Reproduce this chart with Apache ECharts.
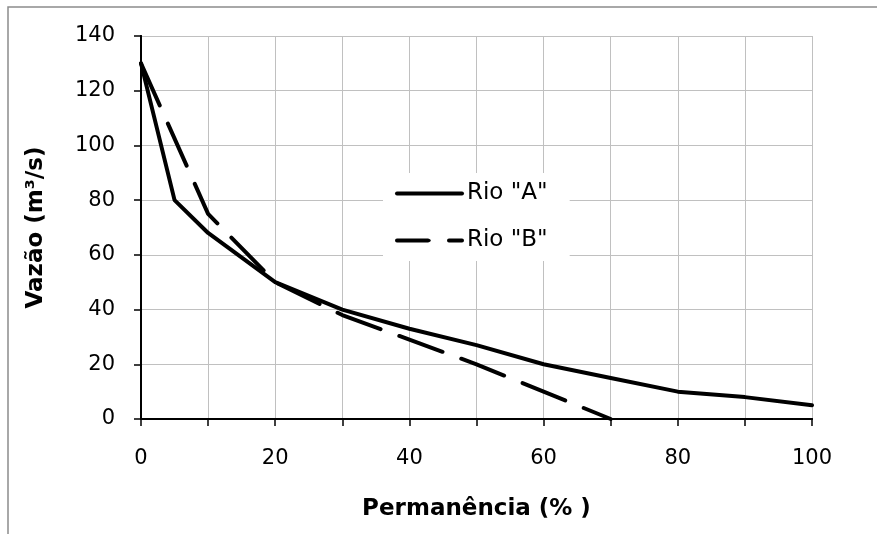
<!DOCTYPE html>
<html>
<head>
<meta charset="utf-8">
<script src="https://cdn.jsdelivr.net/npm/echarts@6/dist/echarts.min.js"></script>
<style>
html,body{margin:0;padding:0;background:#fff;}
#chart{width:877px;height:534px;}
</style>
</head>
<body>
<div id="chart"></div>
<script>
// Data
const permanenciaA = [0, 5, 10, 20, 30, 40, 50, 60, 70, 80, 90, 100];
const vazaoA      = [130, 80, 68, 50, 40, 33, 27, 20, 15, 10, 8, 5];
const permanenciaB = [0, 10, 20, 30, 40, 50, 60, 70];
const vazaoB      = [130, 75, 50, 38, 29, 20, 10, 0];
const seriesNames = ['Rio "A"', 'Rio "B"'];
const xTickLabels = [0, 20, 40, 60, 80, 100];
const yTickLabels = [0, 20, 40, 60, 80, 100, 120, 140];

const pairsA = permanenciaA.map((x, i) => [x, vazaoA[i]]);
const pairsB = permanenciaB.map((x, i) => [x, vazaoB[i]]);

const FONT = 'DejaVu Sans';
const chart = echarts.init(document.getElementById('chart'), null, {renderer: 'canvas'});

chart.setOption({
  backgroundColor: '#fff',
  animation: false,
  graphic: [{
    type: 'rect', z: -10, silent: true,
    shape: {x: 8, y: 7, width: 1000, height: 1000},
    style: {fill: 'none', stroke: '#8c8c8c', lineWidth: 1.5}
  }],
  grid: {left: 141, right: 65, top: 36, bottom: 115, containLabel: false},
  legend: {
    orient: 'vertical',
    left: 383, top: 173,
    padding: [9, 22, 9, 12],
    backgroundColor: '#fff',
    itemWidth: 65, itemHeight: 3, itemGap: 24,
    lineStyle: {width: 4, color: '#000', cap: 'round'},
    itemStyle: {color: '#000'},
    textStyle: {fontFamily: FONT, fontSize: 23, color: '#000', lineHeight: 23},
    data: [
      {name: seriesNames[0], lineStyle: {width: 4, type: 'solid', cap: 'round'}},
      {name: seriesNames[1], lineStyle: {width: 4, type: [31, 21], cap: 'round'}}
    ]
  },
  xAxis: [{
    type: 'value', min: 0, max: 100, interval: 10,
    name: 'Permanência (% )', nameLocation: 'middle', nameGap: 79,
    nameTextStyle: {fontFamily: FONT, fontSize: 23, fontWeight: 'bold', color: '#000'},
    axisLine: {show: true, onZero: false, lineStyle: {color: '#000', width: 2}},
    axisTick: {show: true, length: 7, lineStyle: {color: '#000', width: 1.5}},
    axisLabel: {
      margin: 29, fontFamily: FONT, fontSize: 21, color: '#000',
      formatter: v => xTickLabels.indexOf(v) >= 0 ? String(v) : ''
    },
    splitLine: {show: true, lineStyle: {color: '#c0c0c0', width: 1}}
  }, {
    type: 'value', min: 0, max: 100, position: 'top',
    axisLine: {show: true, lineStyle: {color: '#000', width: 2}},
    axisTick: {show: false}, axisLabel: {show: false}, splitLine: {show: false}
  }],
  yAxis: [{
    type: 'value', min: 0, max: 140, interval: 20,
    name: 'Vazão (m³/s)', nameLocation: 'middle', nameGap: 93,
    nameTextStyle: {fontFamily: FONT, fontSize: 23, fontWeight: 'bold', color: '#000'},
    axisLine: {show: true, onZero: false, lineStyle: {color: '#000', width: 2}},
    axisTick: {show: true, length: 7, lineStyle: {color: '#000', width: 1.5}},
    axisLabel: {
      margin: 26, fontFamily: FONT, fontSize: 21, color: '#000',
      formatter: v => yTickLabels.indexOf(v) >= 0 ? String(v) : ''
    },
    splitLine: {show: true, lineStyle: {color: '#c0c0c0', width: 1}}
  }, {
    type: 'value', min: 0, max: 140, position: 'right',
    axisLine: {show: true, lineStyle: {color: '#000', width: 2}},
    axisTick: {show: false}, axisLabel: {show: false}, splitLine: {show: false}
  }],
  series: [{
    name: seriesNames[0], type: 'line', data: pairsA,
    symbol: 'none', showSymbol: false, smooth: false,
    lineStyle: {color: '#000', width: 4, cap: 'round', join: 'round'},
    itemStyle: {color: '#000'}, z: 3
  }, {
    name: seriesNames[1], type: 'line', data: pairsB,
    symbol: 'none', showSymbol: false, smooth: false,
    lineStyle: {color: '#000', width: 4, type: [46, 20], cap: 'round', join: 'round'},
    itemStyle: {color: '#000'}, z: 3
  }]
});
</script>
</body>
</html>
